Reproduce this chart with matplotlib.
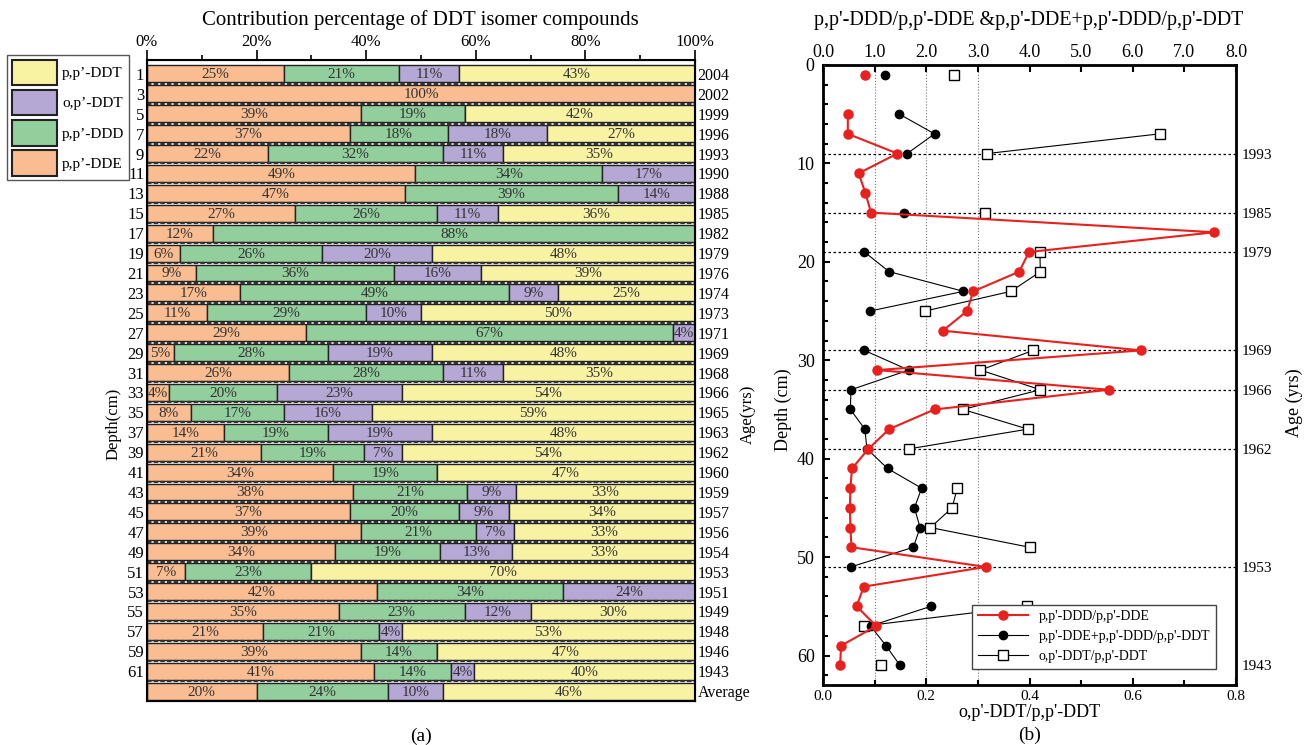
import numpy as np
import matplotlib.pyplot as plt
from matplotlib.patches import Patch
from matplotlib.lines import Line2D

plt.rcParams['font.family'] = ['Liberation Serif', 'DejaVu Serif']

nan = np.nan

# (a) contribution percentage per depth
depth_labels = ['1', '3', '5', '7', '9', '11', '13', '15', '17', '19', '21', '23', '25', '27', '29',
                '31', '33', '35', '37', '39', '41', '43', '45', '47', '49', '51', '53', '55', '57',
                '59', '61', '']
age_labels = ['2004', '2002', '1999', '1996', '1993', '1990', '1988', '1985', '1982', '1979', '1976',
              '1974', '1973', '1971', '1969', '1968', '1966', '1965', '1963', '1962', '1960', '1959',
              '1957', '1956', '1954', '1953', '1951', '1949', '1948', '1946', '1943', 'Average']
dde = [25, 100, 39, 37, 22, 49, 47, 27, 12, 6, 9, 17, 11, 29, 5, 26, 4, 8, 14, 21, 34, 38, 37, 39,
       34, 7, 42, 35, 21, 39, 41, 20]
ddd = [21, 0, 19, 18, 32, 34, 39, 26, 88, 26, 36, 49, 29, 67, 28, 28, 20, 17, 19, 19, 19, 21, 20, 21,
       19, 23, 34, 23, 21, 14, 14, 24]
opddt = [11, 0, 0, 18, 11, 17, 14, 11, 0, 20, 16, 9, 10, 4, 19, 11, 23, 16, 19, 7, 0, 9, 9, 7,
         13, 0, 24, 12, 4, 0, 4, 10]
ppddt = [43, 0, 42, 27, 35, 0, 0, 36, 0, 48, 39, 25, 50, 0, 48, 35, 54, 59, 48, 54, 47, 33, 34, 33,
         33, 70, 0, 30, 53, 47, 40, 46]

# (b) diagnostic ratios
depths = [1, 3, 5, 7, 9, 11, 13, 15, 17, 19, 21, 23, 25, 27, 29, 31, 33, 35, 37, 39, 41, 43, 45, 47,
          49, 51, 53, 55, 57, 59, 61]
ddd_dde = [0.82, nan, 0.48, 0.48, 1.44, 0.69, 0.82, 0.93, 7.58, 3.99, 3.80, 2.91, 2.79, 2.32, 6.16,
           1.05, 5.53, 2.16, 1.28, 0.88, 0.56, 0.53, 0.52, 0.53, 0.55, 3.15, 0.79, 0.65, 1.03, 0.35, 0.33]
dde_ddd_ddt = [1.20, nan, 1.48, 2.16, 1.63, nan, nan, 1.57, nan, 0.80, 1.28, 2.72, 0.91, nan, 0.80,
               1.66, 0.54, 0.53, 0.81, 0.85, 1.25, 1.91, 1.77, 1.88, 1.75, 0.54, nan, 2.09, 0.92, 1.22, 1.49]
op_pp = [0.253, nan, nan, 0.652, 0.318, nan, nan, 0.313, nan, 0.420, 0.421, 0.364, 0.198, nan, 0.407,
         0.305, 0.421, 0.271, 0.397, 0.167, nan, 0.260, 0.250, 0.208, 0.400, nan, nan, 0.395, 0.080,
         nan, 0.113]
age_depths = [9, 15, 19, 29, 33, 39, 51, 61]
ages = ['1993', '1985', '1979', '1969', '1966', '1962', '1953', '1943']

c_dde = '#F9BD91'
c_ddd = '#92CF9D'
c_op = '#B5A8D4'
c_pp = '#F8F2A3'

fig = plt.figure(figsize=(13.11, 7.45), dpi=100)

# ---------------- (a) ----------------
ax = fig.add_axes([0.1121, 0.059, 0.418, 0.8605])
comp = np.array([dde, ddd, opddt, ppddt], dtype=float)
frac = comp / comp.sum(axis=0) * 100
rows = np.arange(len(dde))
left = np.zeros(len(dde))
for vals, raw, col in zip(frac, comp, [c_dde, c_ddd, c_op, c_pp]):
    ax.barh(rows, vals, left=left, height=0.85, color=col, edgecolor='#222222', linewidth=1.0)
    for r, v, l, rv in zip(rows, vals, left, raw):
        if rv > 0:
            ax.text(l + v / 2, r + 0.05, '%d%%' % rv, ha='center', va='center', fontsize=11,
                    color='#333333')
    left += vals
for r in rows[:-1]:
    ax.axhline(r + 0.5, color='#333333', lw=1.6, ls=(0, (2, 1)))
ax.set_xlim(0, 100)
ax.set_ylim(31.5, -0.7)
ax.xaxis.tick_top()
ax.set_xticks(np.arange(0, 101, 20))
ax.set_xticklabels(['%d%%' % v for v in range(0, 101, 20)], fontsize=12)
ax.set_xticks(np.arange(0, 101, 10), minor=True)
ax.tick_params(axis='x', which='major', length=7, width=1.2, pad=0)
ax.tick_params(axis='x', which='minor', length=3.6, width=1.2)
ax.set_yticks(rows)
ax.set_yticklabels(depth_labels, fontsize=12)
ax.tick_params(axis='y', length=0, pad=2)
ax.set_ylabel('Depth(cm)', fontsize=12)
ax.yaxis.set_label_coords(-0.046, 0.432)
for s in ax.spines.values():
    s.set_linewidth(1.5)
fig.text(0.321, 0.973, 'Contribution percentage of DDT isomer compounds', ha='center',
         va='center', fontsize=15)

axr = ax.twinx()
axr.set_ylim(31.5, -0.7)
axr.set_yticks(rows)
axr.set_yticklabels(age_labels, fontsize=11.5)
axr.tick_params(axis='y', length=0, pad=2)
axr.set_ylabel('Age(yrs)', fontsize=12)
axr.yaxis.set_label_coords(1.082, 0.448)

fig.legend(handles=[Patch(facecolor=c_pp, edgecolor='#222222', lw=1.5, label='p,p’-DDT'),
                    Patch(facecolor=c_op, edgecolor='#222222', lw=1.5, label='o,p’-DDT'),
                    Patch(facecolor=c_ddd, edgecolor='#222222', lw=1.5, label='p,p’-DDD'),
                    Patch(facecolor=c_dde, edgecolor='#222222', lw=1.5, label='p,p’-DDE')],
           loc='upper left', bbox_to_anchor=(0.0053, 0.926), fontsize=11, handlelength=3.0,
           handleheight=2.2, handletextpad=0.3, labelspacing=0.3, borderpad=0.3,
           borderaxespad=0, fancybox=False, edgecolor='#555555', framealpha=1)
fig.text(0.321, 0.011, '(a)', ha='center', va='center', fontsize=14)

# ---------------- (b) ----------------
bx = fig.add_axes([0.6278, 0.0805, 0.315, 0.8323])
bx.plot(op_pp, depths, color='black', lw=0.8, marker='s', ms=7, mfc='white', mec='black',
        mew=1.0, zorder=3)
bx.set_xlim(0, 0.8)
bx.set_ylim(63, 0)
bx.set_xticks(np.arange(0, 0.81, 0.2))
bx.set_xticklabels(['0.0', '0.2', '0.4', '0.6', '0.8'], fontsize=11)
bx.set_xticks(np.arange(0, 0.81, 0.1), minor=True)
bx.set_yticks(np.arange(0, 61, 10))
bx.set_yticklabels([str(v) for v in range(0, 61, 10)], fontsize=13)
bx.set_yticks(np.arange(0, 63, 2), minor=True)
bx.tick_params(which='both', direction='in', width=1.5, right=True)
bx.tick_params(which='major', length=5)
bx.tick_params(which='minor', length=3.5)
bx.tick_params(axis='y', pad=6)
bx.set_xlabel("o,p'-DDT/p,p'-DDT", fontsize=13, labelpad=1)
bx.set_ylabel('Depth (cm)', fontsize=13)
bx.yaxis.set_label_coords(-0.075, 0.444)
for s in bx.spines.values():
    s.set_linewidth(2)
for xv in [0.1, 0.2, 0.3]:
    bx.axvline(xv, color='#777777', lw=0.8, ls=':', zorder=1)
for d in age_depths[:-1]:
    bx.axhline(d, color='black', lw=0.9, ls=(0, (2, 2)), zorder=1)

tx = bx.twiny()
tx.plot(ddd_dde, depths, color='#E8201E', lw=1.5, marker='o', ms=6.5, zorder=4)
tx.plot(dde_ddd_ddt, depths, color='black', lw=0.8, marker='o', ms=6, zorder=3)
tx.set_xlim(0, 8)
tx.set_ylim(63, 0)
tx.set_xticks(np.arange(0, 8.1, 1))
tx.set_xticklabels(['%.1f' % v for v in range(0, 9)], fontsize=13)
tx.set_xticks(np.arange(0, 8.1, 0.5), minor=True)
tx.tick_params(which='both', direction='in', width=1.5, pad=3)
tx.tick_params(which='major', length=5)
tx.tick_params(which='minor', length=0)
fig.text(0.785, 0.973, "p,p'-DDD/p,p'-DDE &p,p'-DDE+p,p'-DDD/p,p'-DDT", ha='center',
         va='center', fontsize=14.5)

ay = bx.twinx()
ay.set_ylim(63, 0)
ay.set_yticks(age_depths)
ay.set_yticklabels(ages, fontsize=11)
ay.tick_params(axis='y', length=0, pad=4)
ay.set_ylabel('Age (yrs)', fontsize=13)
ay.yaxis.set_label_coords(1.121, 0.455)

handles = [Line2D([], [], color='#E8201E', lw=1.5, marker='o', ms=6.5),
           Line2D([], [], color='black', lw=0.8, marker='o', ms=6),
           Line2D([], [], color='black', lw=0.8, marker='s', ms=7, mfc='white', mec='black')]
tx.legend(handles, ["p,p'-DDD/p,p'-DDE", "p,p'-DDE+p,p'-DDD/p,p'-DDT", "o,p'-DDT/p,p'-DDT"],
          loc='lower right', bbox_to_anchor=(0.968, 0.015), fontsize=10, handlelength=3.6,
          fancybox=False, edgecolor='#444444', framealpha=1, borderpad=0.4, labelspacing=0.5)
fig.text(0.785, 0.0134, '(b)', ha='center', va='center', fontsize=14)

fig.savefig('out.png', dpi=100)
